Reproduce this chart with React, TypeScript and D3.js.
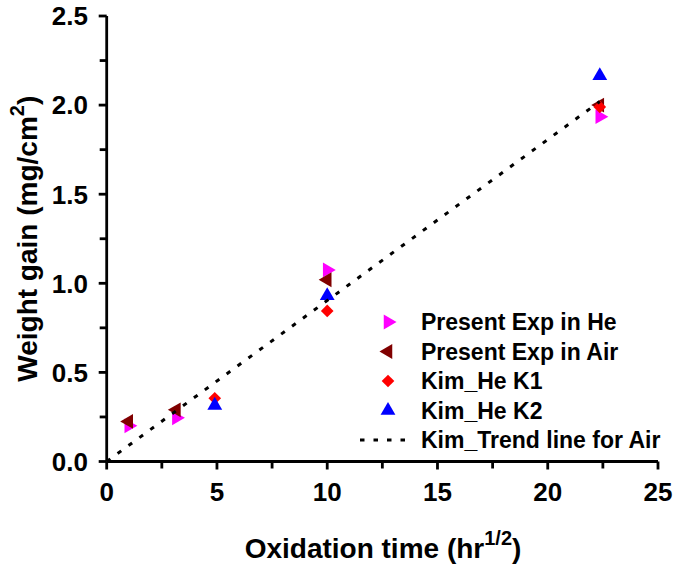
import React from "react";
import * as d3 from "d3";

const heX = [1, 3.16, 10, 22.36];
const heY = [0.2, 0.245, 1.075, 1.935];
const airX = [1, 3.16, 10, 22.36];
const airY = [0.225, 0.29, 1.02, 2.0];
const k1X = [4.9, 10, 22.36];
const k1Y = [0.355, 0.845, 1.99];
const k2X = [4.9, 10, 22.36];
const k2Y = [0.315, 0.93, 2.165];
const trendX = [0, 22.36];
const trendY = [0, 2.02];

const xTicks = [0, 5, 10, 15, 20, 25];
const xMinor = [2.5, 7.5, 12.5, 17.5, 22.5];
const yTicks = [0, 0.5, 1.0, 1.5, 2.0, 2.5];
const yMinor = [0.25, 0.75, 1.25, 1.75, 2.25];

const legendLabels = [
  "Present Exp in He",
  "Present Exp in Air",
  "Kim_He K1",
  "Kim_He K2",
  "Kim_Trend line for Air",
];

const FONT = "'Liberation Sans', Arial, Helvetica, sans-serif";

const W = 676;
const H = 569;

export default function App() {
  const x = d3.scaleLinear().domain([0, 25]).range([106.7, 658]);
  const y = d3.scaleLinear().domain([0, 2.5]).range([461.5, 16]);

  const tri = d3.symbol().type(d3.symbolTriangle).size(95)()!;
  const sq = d3.symbol().type(d3.symbolSquare).size(80)()!;

  const line = d3
    .line<number>()
    .x((_, i) => x(trendX[i]))
    .y((d) => y(d));

  type Mk = { path: string; rot: number; color: string };
  const markers: Mk[] = [
    { path: tri, rot: 90, color: "#FF00FF" },
    { path: tri, rot: -90, color: "#800000" },
    { path: sq, rot: 45, color: "#FF0000" },
    { path: tri, rot: 0, color: "#0000FF" },
  ];
  const series = [
    { xs: heX, ys: heY },
    { xs: airX, ys: airY },
    { xs: k1X, ys: k1Y },
    { xs: k2X, ys: k2Y },
  ];

  const axisColor = "#000";
  const legX = 388;
  const legY0 = 322;
  const legDy = 29.5;

  return (
    <svg
      width={W}
      height={H}
      style={{ position: "absolute", left: 0, top: 0, background: "#fff" }}
      fontFamily={FONT}
    >
      <rect x={0} y={0} width={W} height={H} fill="#fff" />
      {/* axes */}
      <line x1={x(0)} x2={x(25)} y1={y(0)} y2={y(0)} stroke={axisColor} strokeWidth={2.8} />
      <line x1={x(0)} x2={x(0)} y1={y(0)} y2={y(2.5)} stroke={axisColor} strokeWidth={2.8} />
      {xTicks.map((t) => (
        <g key={"xt" + t}>
          <line x1={x(t)} x2={x(t)} y1={y(0)} y2={y(0) + 8} stroke={axisColor} strokeWidth={2.8} />
          <text x={x(t)} y={501} textAnchor="middle" fontSize={26} fontWeight="bold">
            {t}
          </text>
        </g>
      ))}
      {xMinor.map((t) => (
        <line key={"xm" + t} x1={x(t)} x2={x(t)} y1={y(0)} y2={y(0) + 7} stroke={axisColor} strokeWidth={2.8} />
      ))}
      {yTicks.map((t) => (
        <g key={"yt" + t}>
          <line x1={x(0) - 8} x2={x(0)} y1={y(t)} y2={y(t)} stroke={axisColor} strokeWidth={2.8} />
          <text x={88} y={y(t)} dy="0.36em" textAnchor="end" fontSize={26} fontWeight="bold">
            {d3.format(".1f")(t)}
          </text>
        </g>
      ))}
      {yMinor.map((t) => (
        <line key={"ym" + t} x1={x(0) - 7} x2={x(0)} y1={y(t)} y2={y(t)} stroke={axisColor} strokeWidth={2.8} />
      ))}

      {/* axis titles */}
      <text x={383} y={558} textAnchor="middle" fontSize={28} fontWeight="bold">
        Oxidation time (hr
        <tspan fontSize={20} dy={-13}>1/2</tspan>
        <tspan dy={13}>)</tspan>
      </text>
      <text
        transform={`translate(37, ${(y(0) + y(2.5)) / 2}) rotate(-90)`}
        textAnchor="middle"
        fontSize={28}
        fontWeight="bold"
      >
        Weight gain (mg/cm
        <tspan fontSize={20} dy={-13}>2</tspan>
        <tspan dy={13}>)</tspan>
      </text>

      {/* data */}
      {series.map((s, si) =>
        s.xs.map((xv, i) => (
          <path
            key={"p" + si + "-" + i}
            d={markers[si].path}
            transform={`translate(${x(xv)},${y(s.ys[i])}) rotate(${markers[si].rot})`}
            fill={markers[si].color}
          />
        ))
      )}
      <path
        d={line(trendY) || ""}
        fill="none"
        stroke="#000"
        strokeWidth={3}
        strokeDasharray="4.5,9"
      />

      {/* legend */}
      {markers.map((m, i) => (
        <path
          key={"lm" + i}
          d={m.path}
          transform={`translate(${legX},${legY0 + i * legDy}) rotate(${m.rot})`}
          fill={m.color}
        />
      ))}
      <line
        x1={360}
        x2={409}
        y1={legY0 + 4 * legDy}
        y2={legY0 + 4 * legDy}
        stroke="#000"
        strokeWidth={3}
        strokeDasharray="4.5,9"
      />
      {legendLabels.map((l, i) => (
        <text
          key={"lt" + i}
          x={421}
          y={legY0 + i * legDy}
          dy="0.36em"
          fontSize={23}
          fontWeight="bold"
        >
          {l}
        </text>
      ))}
    </svg>
  );
}
